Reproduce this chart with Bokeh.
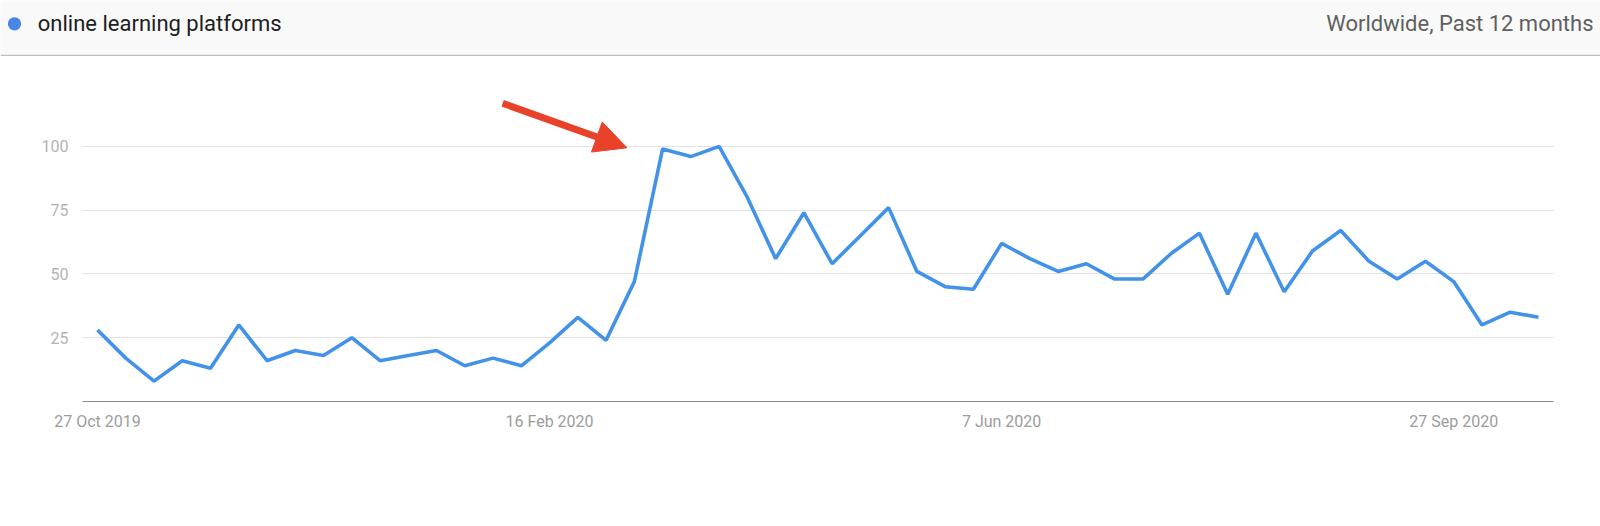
from bokeh.plotting import figure
from bokeh.models import Range1d, FixedTicker, Arrow, NormalHead
from bokeh.embed import file_html
from bokeh.resources import INLINE
from bokeh.core.properties import value

# ---- data ----
search_term = "online learning platforms"
scope_text = "Worldwide, Past 12 months"
week_index = list(range(52))  # weekly, 27 Oct 2019 .. 18 Oct 2020
interest = [28, 17, 8, 16, 13, 30, 16, 20, 18, 25,
            16, 18, 20, 14, 17, 14, 23, 33, 24, 47,
            99, 96, 100, 80, 56, 74, 54, 65, 76, 51,
            45, 44, 62, 56, 51, 54, 48, 48, 58, 66,
            42, 66, 43, 59, 67, 55, 48, 55, 47, 30,
            35, 33]
x_tick_pos = [0, 16, 32, 48]
x_tick_labels = ["27 Oct 2019", "16 Feb 2020", "7 Jun 2020", "27 Sep 2020"]
y_ticks = [25, 50, 75, 100]
# annotation arrow (data coords: start -> end)
arrow_start = (14.34, 116.9)
arrow_end = (18.74, 99.45)

FONT = "Roboto"
W = 1600
LEFT, RIGHT = 82, 47

# ---- header bar (separate root, full-width frame; data units == px) ----
HH = 56
hdr = figure(width=W, height=HH, x_range=Range1d(0, W), y_range=Range1d(0, HH),
             output_backend="svg", toolbar_location=None,
             min_border=0, min_border_left=0, min_border_right=0,
             min_border_top=0, min_border_bottom=0)
hdr.axis.visible = False
hdr.grid.visible = False
hdr.outline_line_color = None
hdr.background_fill_color = "#f9f9f9"
hdr.border_fill_color = "#f9f9f9"
hdr.scatter(x=[14], y=[HH - 23.3], size=13.3, marker="circle", fill_color="#4a86e8", line_color=None)
hdr.text(x=[37.3], y=[HH - 22.8], text=[search_term], text_font=value(FONT), text_font_size="22px",
         text_color="#202020", text_baseline="middle", text_align="left")
hdr.text(x=[1593], y=[HH - 22.8], text=[scope_text], text_font=value(FONT), text_font_size="22px",
         text_color="#5f5f5f", text_baseline="middle", text_align="right")
hdr.segment(x0=[0], y0=[0.9], x1=[W], y1=[0.9], line_color="#bdbdbd", line_width=1.8)

# ---- main chart ----
p = figure(width=W, height=470, x_range=Range1d(-0.531, 51.531), y_range=Range1d(0, 129.75),
           output_backend="svg", toolbar_location=None,
           min_border_left=LEFT, min_border_right=RIGHT, min_border_top=14, min_border_bottom=125)
p.outline_line_color = None
p.background_fill_color = "white"
p.border_fill_color = "white"

p.xgrid.visible = False
p.ygrid.ticker = FixedTicker(ticks=y_ticks)
p.ygrid.grid_line_color = "#e2e2e2"
p.ygrid.grid_line_width = 1

p.yaxis.ticker = FixedTicker(ticks=y_ticks)
p.yaxis.axis_line_color = None
p.yaxis.major_tick_line_color = None
p.yaxis.minor_tick_line_color = None
p.yaxis.major_label_text_font = FONT
p.yaxis.major_label_text_font_size = "16px"
p.yaxis.major_label_text_color = "#b3b3b3"
p.yaxis.major_label_standoff = 8

p.xaxis.ticker = FixedTicker(ticks=x_tick_pos)
p.xaxis.major_label_overrides = {t: l for t, l in zip(x_tick_pos, x_tick_labels)}
p.xaxis.axis_line_color = "#8c8c8c"
p.xaxis.axis_line_width = 1
p.xaxis.major_tick_line_color = None
p.xaxis.minor_tick_line_color = None
p.xaxis.major_label_text_font = FONT
p.xaxis.major_label_text_font_size = "16px"
p.xaxis.major_label_text_color = "#9c9c9c"
p.xaxis.major_label_standoff = 4

p.line(x=week_index, y=interest, line_color="#4293e8", line_width=3.6)

p.add_layout(Arrow(end=NormalHead(size=32, fill_color="#e8432a", line_color="#e8432a", line_width=1),
                   x_start=arrow_start[0], y_start=arrow_start[1],
                   x_end=arrow_end[0], y_end=arrow_end[1],
                   line_color="#e8432a", line_width=7))

open("out.html", "w").write(file_html([hdr, p], INLINE))
